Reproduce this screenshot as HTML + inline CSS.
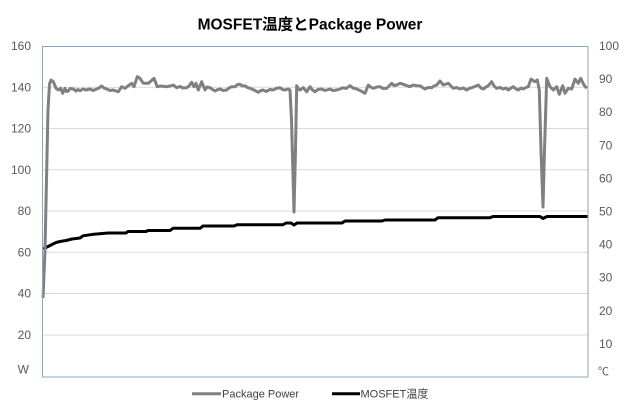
<!DOCTYPE html>
<html>
<head>
<meta charset="utf-8">
<style>
  html,body{margin:0;padding:0;background:#fff;}
  svg{display:block;}
  text{font-family:"Liberation Sans","Noto Sans CJK JP",sans-serif;}
</style>
</head>
<body>
<svg width="620" height="410" viewBox="0 0 620 410" xmlns="http://www.w3.org/2000/svg">
  <rect width="620" height="410" fill="#fff"/>
  <!-- title -->
  <text x="310" y="29.5" text-anchor="middle" font-size="15.5" font-weight="bold" fill="#000">MOSFET温度とPackage Power</text>

  <!-- gridlines -->
  <g stroke="#d9d9d9" stroke-width="1">
    <line x1="42" y1="87.3" x2="588" y2="87.3"/>
    <line x1="42" y1="128.5" x2="588" y2="128.5"/>
    <line x1="42" y1="169.8" x2="588" y2="169.8"/>
    <line x1="42" y1="211" x2="588" y2="211"/>
    <line x1="42" y1="252.3" x2="588" y2="252.3"/>
    <line x1="42" y1="293.5" x2="588" y2="293.5"/>
    <line x1="42" y1="335" x2="588" y2="335"/>
  </g>

  <!-- left labels -->
  <g font-size="12" fill="#595959" text-anchor="end">
    <text x="31" y="50">160</text>
    <text x="31" y="91.5">140</text>
    <text x="31" y="132.7">120</text>
    <text x="31" y="174">100</text>
    <text x="31" y="215.2">80</text>
    <text x="31" y="256.5">60</text>
    <text x="31" y="297.7">40</text>
    <text x="31" y="339">20</text>
    <text x="29" y="373.5">W</text>
  </g>
  <!-- right labels -->
  <g font-size="12" fill="#595959" text-anchor="start">
    <text x="599" y="50">100</text>
    <text x="599" y="83">90</text>
    <text x="599" y="116.2">80</text>
    <text x="599" y="149.3">70</text>
    <text x="599" y="182.4">60</text>
    <text x="599" y="215.5">50</text>
    <text x="599" y="248.6">40</text>
    <text x="599" y="281.7">30</text>
    <text x="599" y="314.8">20</text>
    <text x="599" y="348">10</text>
    <text x="598" y="375" font-size="11">℃</text>
  </g>

  <!-- temperature -->
  <path fill="none" stroke="#000" stroke-width="3" stroke-linejoin="round"
    d="M43,249 L47,247 L52,244.5 L56,242.5 L60,241.5 L66,240.5 L72,239 L80,238 L83,235.8 L94,234.2 L108,233 L126,233 L128,231.5 L146,231.5 L148,230.5 L170,230.5 L173,228.3 L200,228.3 L203,226 L234,226 L237,224.7 L283,224.7 L286,223 L291,223 L294,225 L297,223 L342,223 L345,221 L382,221 L385,220 L435,220 L438,217.7 L490,217.7 L493,216.5 L540,216.5 L543,218.5 L547,216.5 L588,216.5"/>

  <!-- package power -->
  <path fill="none" stroke="#808080" stroke-width="3" stroke-linejoin="round"
    d="M43,298 L45,250 L46.5,180 L48,110 L49.5,84 L51,80 L53.3,81.7 L56,88.3 L58.3,90 L60.7,88.3 L62.7,93.3 L65,88.3 L66.5,91.5 L68.3,91 L70,88.5 L73.3,89 L76,91 L78,89.5 L80,90.7 L83,89 L86,90 L90,89 L93,90.5 L96.7,89 L99,88 L101.7,86 L104,88 L106.7,89 L110,90.5 L113.3,90 L116,91 L118.3,91.7 L121.7,86.7 L125,88.3 L128.3,85.7 L131.7,83.3 L134,86.7 L137.3,76.7 L140,78.3 L143.3,83.3 L148.3,83.3 L151,81 L154,78.3 L157.3,86.7 L161,86 L166.7,86.7 L170,86 L173.3,85 L176.7,87.7 L180,86.5 L183,88 L186.7,87.7 L189,86 L191.7,82.3 L194,86.7 L196,83.3 L198.3,90 L201.7,81.7 L205,90 L207,87 L210,87.7 L212.5,89.5 L215,91 L218,89.5 L220,89 L223,90.5 L226.7,90 L229,88 L231.7,86.7 L235,86.7 L237.5,84.5 L240,84.3 L242.5,86 L245,85.7 L247.5,87.5 L250,88.3 L254,90 L258.3,92.3 L261,90.5 L263.3,90 L266,91.5 L270,89.5 L273.3,90 L276,88.5 L280,87.7 L282.5,89.5 L285,90 L288,89 L290,90 L291.5,120 L294,212 L295.5,150 L296.7,85.7 L298.5,89 L300,90 L303.3,87.7 L306.7,91.7 L310,86.7 L312.5,90 L315,91.7 L318,89.5 L321.7,89 L325,90.5 L330,89 L333,90.5 L336.7,90 L340,89 L343.3,87.7 L346,88.5 L350,85.7 L353,88 L356.7,89 L361,91 L365,93.3 L368.3,85 L370.5,87 L373.3,88.3 L377,87 L380,86.7 L383,88.5 L386.7,88.3 L389,86 L391.7,83.3 L394,85.5 L396.7,85 L400,83.3 L403.3,84.3 L406.5,85.5 L410,86.7 L413,85 L416.7,85.7 L420,85.7 L422.5,87.5 L425,89 L428,87.5 L431.7,87.7 L434,86 L436.7,85 L440,81 L443.3,85 L448.3,83.3 L451,86 L453.3,88.3 L456.5,87.5 L460,89 L463,88 L466.7,90 L469,88.5 L471.7,87.7 L475,86.5 L478.3,85 L481,88 L483.3,89 L486,87 L488.3,85.7 L491.7,81.7 L494,86 L496.7,88.3 L500,87.5 L503.3,89 L506,88 L508.3,90 L511,88 L513.3,86.7 L516,89 L518.3,90 L521,88 L523.3,89 L526,87.5 L528.3,86.7 L531,79 L533,80.5 L535,81.7 L537.3,80 L539.3,90 L541,150 L543,207 L544.5,150 L546.7,78.3 L548.5,83 L550,86.7 L553.3,90 L556.7,86.7 L559.3,94.3 L562.7,85.7 L565,93.3 L568.3,88.3 L571.7,89 L575,79 L578.3,83.3 L580.7,78.3 L584,85 L586.7,88.3"/>

  <!-- plot border -->
  <rect x="42.5" y="46.5" width="545.5" height="330.5" fill="none" stroke="#86a9c2" stroke-width="1"/>

  <!-- legend -->
  <line x1="192" y1="393.7" x2="221" y2="393.7" stroke="#808080" stroke-width="3"/>
  <text x="222" y="397.5" font-size="11" fill="#404040">Package Power</text>
  <line x1="332" y1="393.7" x2="360" y2="393.7" stroke="#000" stroke-width="3"/>
  <text x="360.5" y="397.5" font-size="11" fill="#404040">MOSFET温度</text>
</svg>
</body>
</html>
